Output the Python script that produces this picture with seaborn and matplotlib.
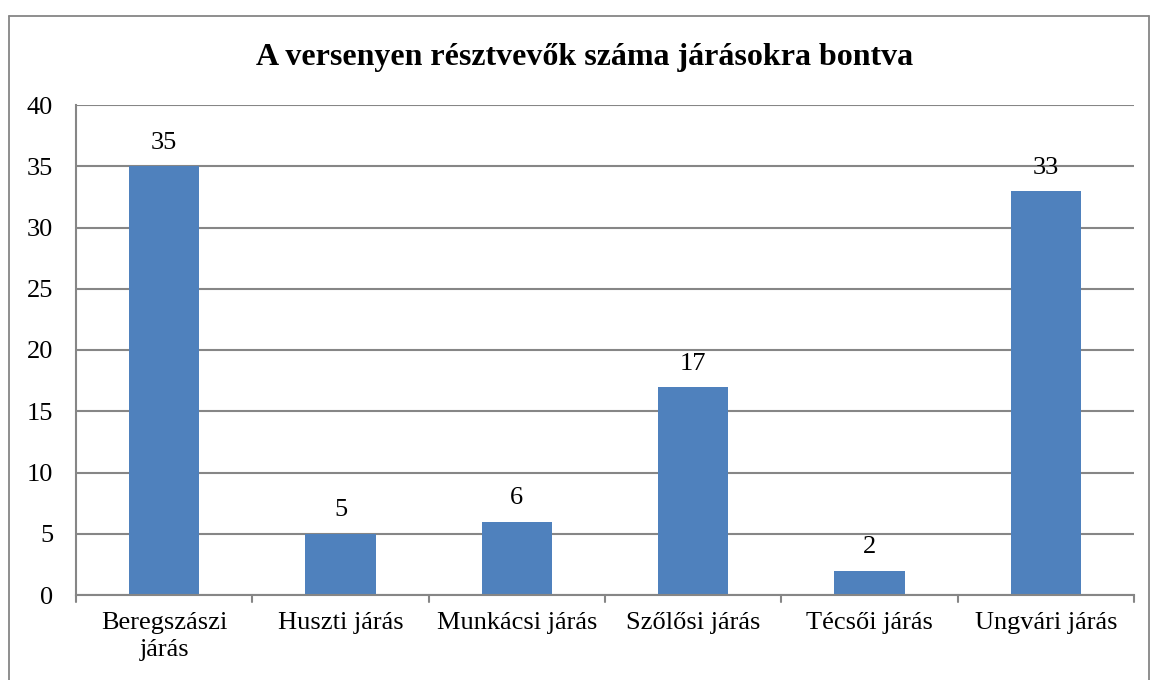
import matplotlib

matplotlib.use("Agg")

import matplotlib.pyplot as plt
import pandas as pd
import seaborn as sns
from matplotlib.lines import Line2D

TITLE = "A versenyen résztvevők száma járásokra bontva"
DISTRICTS = [
    "Beregszászi\njárás",
    "Huszti járás",
    "Munkácsi járás",
    "Szőlősi járás",
    "Técsői járás",
    "Ungvári járás",
]
PARTICIPANTS = [35, 5, 6, 17, 2, 33]
Y_TICKS = [0, 5, 10, 15, 20, 25, 30, 35, 40]

BAR_COLOR = "#4F81BD"
GRID_COLOR = "#868686"
FS = 19

sns.set_theme(style="white")
plt.rcParams["font.family"] = ["Liberation Serif", "DejaVu Serif"]

df = pd.DataFrame({"District": DISTRICTS, "Participants": PARTICIPANTS})

W, H = 1151, 680
fig = plt.figure(figsize=(W / 100, H / 100), dpi=100)
ax = fig.add_axes([76 / W, 1 - 595 / H, (1134 - 76) / W, (595 - 105) / H])

sns.barplot(data=df, x="District", y="Participants", color=BAR_COLOR,
            width=0.4, saturation=1, linewidth=0, ax=ax)

ax.set_ylim(0, 40)
ax.set_xlim(-0.5, len(DISTRICTS) - 0.5)
ax.set_yticks(Y_TICKS)
ax.set_yticklabels([str(t) for t in Y_TICKS], fontsize=FS, color="black")
ax.set_xticks(range(len(DISTRICTS)))
ax.set_xticklabels(DISTRICTS, fontsize=FS, color="black", linespacing=1.3)
ax.tick_params(axis="x", length=0, pad=12)
ax.tick_params(axis="y", length=6.5, width=1.5, color=GRID_COLOR, direction="out", pad=10)
ax.set_xlabel("")
ax.set_ylabel("")

ax.yaxis.grid(True, color=GRID_COLOR, linewidth=1.5)
ax.set_axisbelow(True)
for side in ["top", "right"]:
    ax.spines[side].set_visible(False)
for side in ["left", "bottom"]:
    ax.spines[side].set_color(GRID_COLOR)
    ax.spines[side].set_linewidth(1.5)

# category separator ticks on the x axis
for b in [i - 0.5 for i in range(len(DISTRICTS) + 1)]:
    ax.plot([b, b], [0, -0.6], color=GRID_COLOR, linewidth=1.5,
            clip_on=False, transform=ax.transData)

for i, v in enumerate(PARTICIPANTS):
    ax.text(i, v + 1.0, str(v), ha="center", va="bottom", fontsize=FS, color="black")

fig.text(585 / W, 1 - 57 / H, TITLE, ha="center", va="center",
         fontsize=23, fontweight="bold", color="black")

# outer chart frame (left, top, right)
x0, x1, y0 = 8.5 / W, 1148.5 / W, 1 - 15.5 / H
for xs, ys in [([x0, x0], [0, y0]), ([x0, x1], [y0, y0]), ([x1, x1], [y0, 0])]:
    fig.add_artist(Line2D(xs, ys, transform=fig.transFigure, color=GRID_COLOR, linewidth=1.3))

fig.savefig("out.png", dpi=100)
